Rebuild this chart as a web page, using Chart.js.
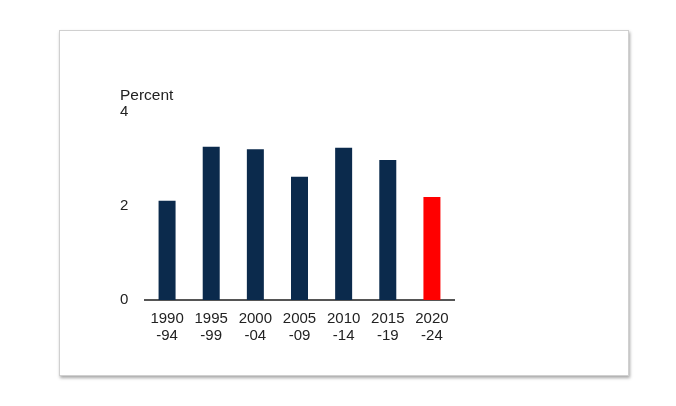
<!DOCTYPE html>
<html>
<head>
<meta charset="utf-8">
<script src="https://cdn.jsdelivr.net/npm/chart.js@4"></script>
<style>
html,body{margin:0;padding:0;background:#fff;width:676px;height:406px;overflow:hidden;}
#card{position:absolute;left:59px;top:30px;width:568px;height:344px;background:#fff;border:1px solid #d0d0d0;box-shadow:1px 2px 3px rgba(0,0,0,0.35);}
#wrap{position:absolute;left:0;top:0;width:676px;height:406px;}
</style>
</head>
<body>
<div id="card"></div>
<div id="wrap"><canvas id="c" width="676" height="406"></canvas></div>
<script>
const categories = [["1990","-94"],["1995","-99"],["2000","-04"],["2005","-09"],["2010","-14"],["2015","-19"],["2020","-24"]];
const values = [2.11, 3.26, 3.21, 2.62, 3.24, 2.98, 2.19];
const barColors = ["#0b2a4c","#0b2a4c","#0b2a4c","#0b2a4c","#0b2a4c","#0b2a4c","#ff0000"];
const yTicks = [0, 2, 4];
const yTitle = "Percent";

const titlePlugin = {
  id: 'ytitle',
  afterDraw(chart){
    const ctx = chart.ctx;
    const y = chart.scales.y;
    ctx.save();
    ctx.font = '15.5px "Liberation Sans", Arial, sans-serif';
    ctx.fillStyle = '#222';
    ctx.textAlign = 'left';
    ctx.textBaseline = 'middle';
    ctx.fillText(yTitle, y.left, y.getPixelForValue(yTicks[yTicks.length-1]) - 16);
    ctx.restore();
  }
};

new Chart(document.getElementById('c'), {
  type: 'bar',
  data: {
    labels: categories,
    datasets: [{
      data: values,
      backgroundColor: barColors,
      borderWidth: 0,
      barPercentage: 0.385,
      categoryPercentage: 1.0
    }]
  },
  options: {
    responsive: false,
    animation: false,
    devicePixelRatio: 1,
    layout: { padding: { left: 120, right: 222, top: 112, bottom: 56 } },
    plugins: { legend: { display: false }, tooltip: { enabled: false } },
    scales: {
      x: {
        grid: { display: false, drawTicks: false },
        border: { display: true, color: '#555', width: 2 },
        ticks: {
          color: '#222',
          font: { family: '"Liberation Sans", Arial, sans-serif', size: 15, lineHeight: 1.13 },
          padding: 10,
          maxRotation: 0,
          autoSkip: false
        },
        afterFit(s){ s.height = 50; }
      },
      y: {
        min: 0, max: 4,
        grid: { display: false, drawTicks: false },
        border: { display: false },
        afterBuildTicks(s){ s.ticks = yTicks.map(v => ({value: v})); },
        ticks: {
          color: '#222',
          font: { family: '"Liberation Sans", Arial, sans-serif', size: 15 },
          padding: 17,
          crossAlign: 'far'
        },
        afterFit(s){ s.width = 25; }
      }
    }
  },
  plugins: [titlePlugin]
});
</script>
</body>
</html>
